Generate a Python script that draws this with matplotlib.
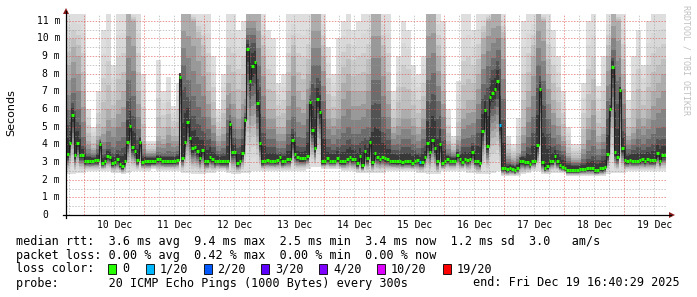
import numpy as np
import matplotlib
matplotlib.use("Agg")
import matplotlib.pyplot as plt
from matplotlib.patches import Polygon, Rectangle
from matplotlib.lines import Line2D

# ---------------- data ----------------
# hourly median RTT (ms), first hour starts Dec 9 16:40:29
median_ms = [
    3.45, 4.1, 5.66, 3.4, 4.1, 3.4, 3.4, 3.08, 3.08, 3.06,
    3.08, 3.1, 3.1, 4.0, 2.96, 3.05, 3.36, 3.3, 2.96, 3.0,
    3.15, 2.89, 2.77, 3.06, 4.15, 5.04, 3.83, 3.64, 3.1, 4.13,
    3.02, 3.05, 3.03, 3.03, 3.06, 3.06, 3.15, 3.15, 3.08, 3.06,
    3.06, 3.06, 3.06, 3.06, 3.1, 7.83, 3.24, 4.13, 5.27, 4.34,
    3.78, 3.87, 3.6, 3.25, 3.66, 3.06, 3.06, 3.28, 3.18, 3.06,
    3.08, 3.03, 3.03, 3.03, 3.03, 5.15, 3.55, 3.55, 2.96, 3.08,
    3.49, 5.38, 9.38, 7.59, 8.46, 8.65, 6.34, 4.08, 3.03, 3.08,
    3.1, 3.08, 3.08, 3.06, 3.1, 3.28, 3.03, 3.08, 3.15, 3.15,
    4.23, 3.44, 3.28, 3.2, 3.2, 3.22, 3.34, 6.38, 4.83, 3.78,
    6.57, 5.83, 3.06, 3.06, 3.2, 3.08, 3.08, 3.08, 3.24, 3.04,
    3.04, 3.04, 3.15, 3.28, 3.17, 3.17, 2.93, 3.36, 2.81, 3.6,
    3.2, 4.13, 3.02, 3.49, 3.3, 3.17, 3.3, 3.21, 3.15, 3.08,
    3.06, 3.06, 3.04, 3.06, 3.0, 3.04, 3.04, 3.04, 2.96, 3.06,
    3.1, 2.98, 2.98, 3.3, 4.06, 3.55, 4.25, 3.78, 3.04, 4.0,
    2.96, 3.06, 3.19, 3.08, 3.08, 3.08, 3.41, 3.17, 3.02, 3.19,
    3.1, 3.17, 3.55, 3.08, 3.04, 2.96, 4.74, 5.95, 3.91, 6.7,
    6.93, 7.13, 7.59, 5.11, 2.68, 2.66, 2.59, 2.66, 2.62, 2.55,
    2.68, 3.08, 3.06, 3.02, 3.02, 2.91, 3.08, 3.06, 3.95, 7.13,
    2.98, 2.68, 2.77, 3.08, 3.08, 3.34, 3.06, 2.83, 2.74, 2.66,
    2.57, 2.57, 2.57, 2.57, 2.57, 2.6, 2.62, 2.63, 2.66, 2.66,
    2.66, 2.53, 2.55, 2.64, 2.64, 2.72, 3.44, 6.02, 8.4, 3.57,
    3.3, 7.08, 3.79, 3.1, 3.06, 3.13, 3.08, 3.08, 3.08, 3.1,
    3.15, 3.06, 3.17, 3.1, 3.1, 3.1, 3.49, 3.08, 3.4, 3.4,
]
# hours that had packet loss, and how many of 20 pings were lost
loss_hours = [141, 173]
loss_counts = [1, 1]

# smoke, 2-hour bins: min, ~60th pct, ~80th pct, max ping (ms)
smoke_min = [
    2.3, 2.3, 2.4, 2.4, 2.5, 2.5, 2.5, 2.5, 2.5, 2.4,
    2.4, 2.3, 2.4, 2.5, 2.5, 2.5, 2.5, 2.6, 2.5, 2.5,
    2.5, 2.5, 2.5, 2.4, 2.4, 2.3, 2.3, 2.3, 2.4, 2.4,
    2.5, 2.5, 2.4, 2.3, 2.3, 2.4, 2.4, 2.5, 2.5, 2.5,
    2.5, 2.5, 2.5, 2.5, 2.5, 2.5, 2.5, 2.5, 2.6, 2.7,
    2.7, 2.6, 2.6, 2.6, 2.6, 2.5, 2.5, 2.5, 2.4, 2.4,
    2.4, 2.4, 2.4, 2.4, 2.5, 2.5, 2.5, 2.5, 2.5, 2.5,
    2.4, 2.4, 2.3, 2.3, 2.3, 2.5, 2.5, 2.5, 2.5, 2.5,
    2.4, 2.4, 2.3, 2.3, 2.3, 2.4, 2.5, 2.2, 2.2, 2.2,
    2.2, 2.3, 2.4, 2.5, 2.5, 2.3, 2.3, 2.4, 2.4, 2.4,
    2.2, 2.2, 2.2, 2.2, 2.2, 2.2, 2.2, 2.2, 2.3, 2.4,
    2.4, 2.4, 2.5, 2.5, 2.5, 2.5, 2.5, 2.5, 2.5, 2.5,
]
smoke_p60 = [
    5.5, 6.5, 5.5, 4.0, 3.4, 3.3, 3.6, 3.5, 3.8, 3.6,
    3.8, 4.0, 7.0, 6.0, 4.5, 3.4, 3.3, 3.3, 3.4, 3.4,
    3.4, 3.4, 3.5, 8.0, 7.0, 6.0, 5.5, 5.0, 4.5, 4.0,
    3.5, 3.6, 5.0, 4.5, 4.0, 4.5, 10.0, 10.0, 8.0, 5.0,
    4.0, 4.0, 3.6, 3.6, 4.2, 5.0, 4.0, 4.0, 5.0, 8.0,
    8.0, 6.0, 4.0, 3.8, 4.0, 4.2, 4.5, 4.2, 4.2, 4.5,
    4.5, 7.0, 7.0, 5.0, 4.5, 3.8, 3.8, 4.0, 4.0, 3.8,
    3.6, 4.0, 7.0, 7.5, 6.0, 4.5, 3.4, 3.3, 3.5, 4.0,
    4.0, 4.2, 5.0, 7.0, 8.0, 8.5, 9.0, 6.0, 2.9, 2.8,
    2.9, 3.4, 4.0, 5.0, 8.0, 7.0, 5.0, 4.0, 3.8, 3.5,
    3.0, 2.9, 2.9, 3.0, 3.3, 3.5, 3.2, 3.5, 6.0, 9.0,
    7.0, 5.0, 3.6, 3.8, 4.0, 3.8, 4.0, 4.2, 4.5, 4.5,
]
smoke_p80 = [
    8.5, 9.5, 9.0, 7.0, 4.2, 3.8, 4.5, 5.0, 6.0, 5.5,
    6.5, 7.0, 11.4, 11.0, 7.0, 4.2, 3.6, 3.6, 4.5, 4.3,
    5.0, 4.5, 4.5, 11.4, 11.4, 11.0, 10.0, 9.0, 7.0, 5.5,
    4.5, 5.0, 7.5, 7.0, 6.0, 7.0, 11.4, 11.4, 11.4, 9.0,
    6.0, 6.0, 5.0, 5.0, 7.0, 9.0, 7.0, 6.5, 8.0, 11.4,
    11.4, 9.0, 6.0, 5.5, 6.0, 7.5, 8.0, 7.0, 7.0, 7.0,
    8.0, 11.4, 11.4, 9.0, 7.0, 5.0, 5.5, 6.0, 6.0, 5.5,
    5.0, 6.0, 11.4, 11.4, 9.0, 7.0, 4.2, 3.7, 4.5, 6.0,
    6.5, 6.5, 8.0, 10.0, 11.0, 11.4, 11.4, 10.0, 3.5, 3.2,
    3.5, 5.0, 7.0, 9.0, 11.4, 11.0, 8.0, 6.5, 5.5, 4.5,
    3.5, 3.2, 3.2, 4.0, 5.5, 6.5, 4.5, 5.0, 9.0, 11.4,
    11.0, 8.0, 4.5, 5.0, 6.0, 5.5, 6.0, 7.0, 7.5, 8.0,
]
smoke_max = [
    11.4, 11.4, 11.4, 11.4, 6.0, 5.0, 7.0, 10.5, 11.4, 8.5,
    11.4, 11.4, 11.4, 11.4, 11.4, 8.0, 4.2, 4.2, 8.8, 7.0,
    7.8, 6.2, 7.5, 11.4, 11.4, 11.4, 11.4, 11.4, 11.4, 9.0,
    6.0, 8.0, 11.4, 11.4, 10.5, 11.0, 11.4, 11.4, 11.4, 11.4,
    10.5, 10.0, 7.5, 8.0, 11.4, 11.4, 11.4, 11.4, 11.4, 11.4,
    11.4, 11.4, 9.5, 8.0, 10.0, 11.0, 11.4, 10.5, 11.0, 11.4,
    11.4, 11.4, 11.4, 11.4, 11.4, 7.0, 9.0, 11.0, 10.5, 8.5,
    8.0, 9.0, 11.4, 11.4, 11.4, 11.0, 6.0, 4.5, 7.6, 11.4,
    11.4, 10.5, 11.4, 11.4, 11.4, 11.4, 11.4, 11.4, 4.5, 4.0,
    5.5, 11.0, 11.4, 11.4, 11.4, 11.4, 11.4, 10.5, 9.0, 7.0,
    5.0, 4.0, 4.0, 7.5, 11.0, 11.4, 7.3, 9.0, 11.4, 11.4,
    11.4, 11.4, 6.5, 9.0, 10.5, 8.5, 11.0, 11.4, 11.4, 11.4,
]

day_labels = ["10 Dec", "11 Dec", "12 Dec", "13 Dec", "14 Dec",
              "15 Dec", "16 Dec", "17 Dec", "18 Dec", "19 Dec"]
y_tick_values = [0, 1, 2, 3, 4, 5, 6, 7, 8, 9, 10, 11]
y_tick_labels = ["0", "1 m", "2 m", "3 m", "4 m", "5 m", "6 m",
                 "7 m", "8 m", "9 m", "10 m", "11 m"]

loss_legend_labels = ["0", "1/20", "2/20", "3/20", "4/20", "10/20", "19/20"]
loss_legend_colors = ["#26ff00", "#00b8ff", "#0059ff", "#5e00ff",
                      "#7e00ff", "#dd00ff", "#ff0000"]
loss_level_counts = [0, 1, 2, 3, 4, 10, 19]

line_rtt = "median rtt:  3.6 ms avg  9.4 ms max  2.5 ms min  3.4 ms now  1.2 ms sd  3.0   am/s"
line_loss = "packet loss: 0.00 % avg  0.42 % max  0.00 % min  0.00 % now"
line_probe = "probe:       20 ICMP Echo Pings (1000 Bytes) every 300s"
line_end = "end: Fri Dec 19 16:40:29 2025"
start_hour_of_day = 16 + 40 / 60 + 29 / 3600

# ---------------- figure ----------------
W, H = 697, 297
fig = plt.figure(figsize=(W / 100, H / 100), dpi=100)
fig.patch.set_facecolor("white")

PX_L, PX_R, PX_T, PX_B = 66, 666, 14, 215
YMAX = (PX_B - PX_T) / 17.66
ax = fig.add_axes([PX_L / W, (H - PX_B) / H, (PX_R - PX_L) / W, (PX_B - PX_T) / H])
ax.set_xlim(0, 240)
ax.set_ylim(0, YMAX)
ax.axis("off")


def fx(x):
    return x / W


def fy(y):
    return 1 - y / H


# ---------------- smoke ----------------
n = len(median_ms)
hours = np.arange(n + 1)
med = np.array(median_ms)
bidx = np.arange(n) // 2
lo = np.array(smoke_min)[bidx]
dk = np.maximum(np.array(smoke_p60)[bidx], med + 0.2)
md = np.maximum(np.array(smoke_p80)[bidx], dk)
hi = np.maximum(np.array(smoke_max)[bidx], md)
lo = np.minimum(lo, med - 0.2)

K = 10
shades = 0.87 - 0.65 * (np.arange(K) / (K - 1)) ** 1.5


def ext(a):
    return np.append(a, a[-1])


for k in range(K):
    t = k / K
    if t <= 0.4:
        up = hi + (md - hi) * (t / 0.4)
    elif t <= 0.75:
        up = md + (dk - md) * ((t - 0.4) / 0.35)
    else:
        up = dk + (med + 0.12 - dk) * ((t - 0.75) / 0.25)
    low = lo + (med - 0.12 - lo) * (t ** 0.9)
    g = shades[k]
    ax.fill_between(hours, ext(low), ext(up), step="post",
                    color=(g, g, g), lw=0, zorder=1)

# ---------------- grid ----------------
offset = 24 - start_hour_of_day  # first midnight, hours from start
for v in np.arange(0.5, YMAX, 1.0):
    ax.axhline(v, color="#9a9a9a", alpha=0.55, lw=0.7, ls=(0, (1.5, 1.5)), zorder=3)
for v in range(1, 12):
    ax.axhline(v, color="#e05050", alpha=0.6, lw=0.7, ls=(0, (1.5, 1.5)), zorder=3)
h = offset - 24
while h < 240:
    for q in (6, 12, 18):
        hq = h + q
        if 0 < hq < 240:
            ax.axvline(hq, color="#9a9a9a", alpha=0.55, lw=0.7, ls=(0, (1.5, 1.5)), zorder=3)
    if 0 < h < 240:
        ax.axvline(h, color="#e05050", alpha=0.6, lw=0.7, ls=(0, (1.5, 1.5)), zorder=3)
    h += 24

# ---------------- median line ----------------
ax.stairs(med, hours, baseline=None, color="#202020", lw=0.8, zorder=4)
loss_full = np.zeros(n, dtype=int)
for hh, c in zip(loss_hours, loss_counts):
    loss_full[hh] = c
seg_colors = []
for c in loss_full:
    idx = max(i for i, lv in enumerate(loss_level_counts) if lv <= c)
    seg_colors.append(loss_legend_colors[idx])
ax.hlines(med, hours[:-1], hours[1:], colors=seg_colors, lw=2.2, zorder=5)

# ---------------- axes lines & arrows ----------------
fig.add_artist(Line2D([fx(PX_L), fx(PX_L)], [fy(PX_B + 3), fy(11)], color="black", lw=0.9))
fig.add_artist(Line2D([fx(PX_L - 3), fx(671)], [fy(PX_B), fy(PX_B)], color="black", lw=0.9))
fig.add_artist(Polygon([[fx(66), fy(8)], [fx(63), fy(14)], [fx(69), fy(14)]],
                       closed=True, color="#8b1a1a", lw=0))
fig.add_artist(Polygon([[fx(675), fy(215)], [fx(669), fy(212)], [fx(669), fy(218)]],
                       closed=True, color="#8b1a1a", lw=0))

# ---------------- tick labels ----------------
mono = "DejaVu Sans Mono"
for v, lab in zip(y_tick_values, y_tick_labels):
    ypx = PX_B - v * 17.66
    xr = 60 if v != 0 else 48.3
    fig.text(fx(xr), fy(ypx), lab, ha="right", va="center", family=mono,
             fontsize=7, color="black")
for i, lab in enumerate(day_labels):
    hh = offset + 12 + 24 * i
    xpx = PX_L + hh * 2.5
    fig.text(fx(xpx), fy(225), lab, ha="center", va="center", family=mono,
             fontsize=7, color="black")

fig.text(fx(11), fy(113), "Seconds", rotation=90, ha="center", va="center",
         family="DejaVu Sans", fontsize=8, color="black")
fig.text(fx(686), fy(5), "RRDTOOL / TOBI OETIKER", rotation=270, ha="center",
         va="top", family=mono, fontsize=6, color="#c0c0c0")

# ---------------- legend text ----------------
fs = 8.5
fig.text(fx(16), fy(241), line_rtt, ha="left", va="center", family=mono, fontsize=fs)
fig.text(fx(16), fy(255), line_loss, ha="left", va="center", family=mono, fontsize=fs)
fig.text(fx(16), fy(269), "loss color:", ha="left", va="center", family=mono, fontsize=fs)
box_x = [108, 146, 203.5, 261, 319, 377, 443]
for bx, col, lab in zip(box_x, loss_legend_colors, loss_legend_labels):
    fig.add_artist(Rectangle((fx(bx), fy(274)), 8 / W, 10 / H, facecolor=col,
                             edgecolor="black", lw=0.6))
    fig.text(fx(bx + 14), fy(269), lab, ha="left", va="center", family=mono, fontsize=fs)
fig.text(fx(16), fy(283), line_probe, ha="left", va="center", family=mono, fontsize=fs)
fig.text(fx(680), fy(283), line_end, ha="right", va="center", family=mono, fontsize=fs)

fig.savefig("out.png", dpi=100, facecolor="white")
